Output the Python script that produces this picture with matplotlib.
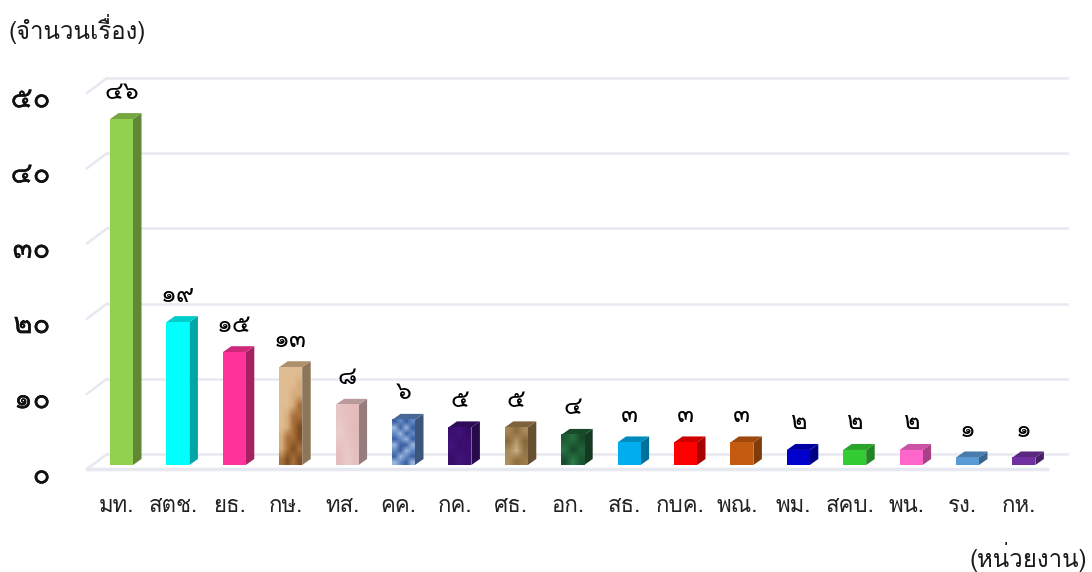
import numpy as np
import matplotlib
matplotlib.use('Agg')
import matplotlib.pyplot as plt
import matplotlib.patheffects as pe
from matplotlib.colors import to_rgb
from matplotlib.patches import Polygon

plt.rcParams['font.family'] = ['Loma', 'DejaVu Sans']

# ข้อมูล
agencies = ['มท.', 'สตช.', 'ยธ.', 'กษ.', 'ทส.', 'คค.', 'กค.', 'ศธ.', 'อก.',
            'สธ.', 'กบค.', 'พณ.', 'พม.', 'สคบ.', 'พน.', 'รง.', 'กห.']
counts = [46, 19, 15, 13, 8, 6, 5, 5, 4, 3, 3, 3, 2, 2, 2, 1, 1]
count_labels = ['๔๖', '๑๙', '๑๕', '๑๓', '๘', '๖', '๕', '๕', '๔',
                '๓', '๓', '๓', '๒', '๒', '๒', '๑', '๑']
bar_colors = ['#92D050', '#00FFFF', '#FF3399', '#D9B48A', '#E6C0C0', '#5B82BE',
              '#3B0F70', '#9E7B4A', '#1E5B33', '#00AEEF', '#FF0000', '#C55A11',
              '#0000CC', '#33CC33', '#FF66CC', '#5B9BD5', '#7030A0']
y_ticks = [0, 10, 20, 30, 40, 50]
y_labels = ['๐', '๑๐', '๒๐', '๓๐', '๔๐', '๕๐']

# ลวดลายของแท่งที่เป็น texture (แถวบนสุดคือด้านบนของแท่ง)
W, T, B, D = '#E0BC92', '#D6AC7C', '#A9703A', '#7F4E22'
L, K, M = '#9DB8E0', '#3A60A2', '#6288C4'
textures = {
    3: [[W, W, W, W], [W, W, W, T], [W, W, T, T], [W, W, T, B], [W, T, B, B],
        [W, T, B, D], [T, B, B, D], [T, B, D, B], [B, D, B, D]],
    4: [['#E8C6C6', '#E6BFC0', '#E4BCBC'], ['#EBCCCB', '#E8C4C4', '#E2BABA'],
        ['#E4BDBD', '#EACBC9', '#E5C0C0']],
    5: [[K, M, K, M], [L, K, L, K], [M, L, K, M], [K, M, L, K], [L, K, K, L],
        [M, K, L, M], [K, L, M, K], [L, M, K, L]],
    6: [['#3A0F6E', '#3F1278', '#360C66'], ['#42147C', '#380E6A', '#3C1072'],
        ['#370D68', '#41137A', '#3B0F70']],
    7: [['#A58552', '#8C6C3E', '#A88A58'], ['#8A6A3A', '#B59A68', '#86683A'],
        ['#A88C5C', '#CBB083', '#94744A'], ['#AD8F5C', '#8C6E40', '#9C7C48']],
    8: [['#1B5A33', '#27703F', '#164A2B'], ['#2A7443', '#14472A', '#22653A'],
        ['#174E2E', '#2F7C4A', '#1A5431']],
}

bar_w = 23 / 56.4
# ระยะลึก 3 มิติ ของแท่งและพื้น (หน่วยแกน x, หน่วยแกน y)
bar_dx, bar_dy = 8.5 / 56.4, 6 / 7.52
wall_dx, wall_dy = 20 / 56.4, 15 / 7.52

fig = plt.figure(figsize=(10.92, 5.72), dpi=100)
# แกนเต็มรูป: x=0 อยู่ที่ 121.5px, ช่องละ 56.4px; y=0 อยู่ที่ 465px, หน่วยละ 7.52px
ax = fig.add_axes([0, 0, 1, 1])
ax.axis('off')

# เส้นกริด
x_left = -34.5 / 56.4
x_right = 925.5 / 56.4
grid_color = '#E6E9F0'
for v in y_ticks:
    yf = v - 4 / 7.52
    ax.plot([x_left + wall_dx, x_right + wall_dx], [yf + wall_dy, yf + wall_dy],
            color=grid_color, lw=1.8, zorder=1)
    ax.plot([x_left, x_left + wall_dx], [yf, yf + wall_dy], color=grid_color, lw=1.8, zorder=1)
ax.plot([x_left, x_right], [-4 / 7.52, -4 / 7.52], color=grid_color, lw=2.5, zorder=1)

x = np.arange(len(counts))
for i, v in enumerate(counts):
    c = np.array(to_rgb(bar_colors[i]))
    l, r = x[i] - bar_w / 2, x[i] + bar_w / 2
    ax.add_patch(Polygon([(r, 0), (r + bar_dx, bar_dy), (r + bar_dx, v + bar_dy), (r, v)],
                         fc=c * 0.65, ec='none', zorder=3))
    ax.add_patch(Polygon([(l, v), (r, v), (r + bar_dx, v + bar_dy), (l + bar_dx, v + bar_dy)],
                         fc=c * 0.8, ec='none', zorder=3))
    if i in textures:
        img = np.array([[to_rgb(h) for h in row] for row in textures[i]])
        ax.imshow(img, extent=(l, r, 0, v), aspect='auto', interpolation='bilinear', zorder=4)
    else:
        ax.bar(x[i], v, width=bar_w, color=c, zorder=4)
    ax.text(x[i], v + 27 / 7.52, count_labels[i], ha='center', va='center',
            fontsize=18, color='black', zorder=5)
    ax.text(x[i] - 0.09, -42 / 7.52, agencies[i], ha='center', va='center',
            fontsize=16, color='#222222')

# imshow เปลี่ยนขอบเขตแกน ต้องตั้งกลับ
ax.set_xlim(-121.5 / 56.4, (1092 - 121.5) / 56.4)
ax.set_ylim(-(572 - 465) / 7.52, 465 / 7.52)

for v, lab in zip(y_ticks, y_labels):
    ax.text(-71 / 56.4, v - 10.5 / 7.52, lab, ha='right', va='center', fontsize=21,
            color='#111111', path_effects=[pe.withStroke(linewidth=0.15, foreground='#111111')])

fig.text(9 / 1092, 1 - 29 / 572, '(จำนวนเรื่อง)', ha='left', va='center', fontsize=17.3,
         color='#1A1A1A')
fig.text(1087 / 1092, 1 - 557 / 572, '(หน่วยงาน)', ha='right', va='center', fontsize=17.3,
         color='#1A1A1A')

fig.savefig('out.png', dpi=100)
